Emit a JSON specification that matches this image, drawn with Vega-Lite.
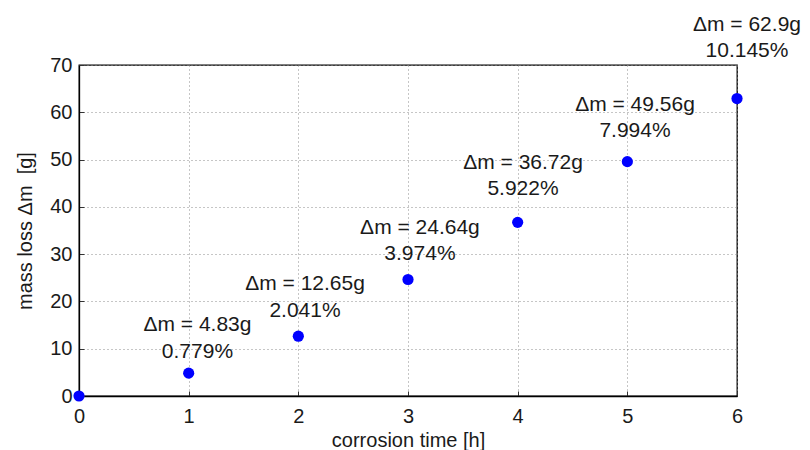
{
  "$schema": "https://vega.github.io/schema/vega-lite/v6.json",
  "width": 658,
  "height": 331,
  "autosize": {"type": "none"},
  "padding": {"left": 79, "top": 65, "right": 73, "bottom": 54},
  "background": "white",
  "config": {
    "font": "Liberation Sans",
    "view": {"stroke": "#000000", "strokeWidth": 1.3},
    "axis": {
      "labelFont": "Liberation Sans",
      "titleFont": "Liberation Sans",
      "labelFontSize": 20,
      "titleFontSize": 20,
      "titleFontWeight": "normal",
      "labelColor": "#1a1a1a",
      "titleColor": "#1a1a1a",
      "domainColor": "#000000",
      "domainWidth": 1.3,
      "tickColor": "#333333",
      "tickSize": -5,
      "grid": true,
      "gridColor": "#8c8c8c",
      "gridDash": [1, 3],
      "gridWidth": 1,
      "gridOpacity": 1
    }
  },
  "data": {
    "values": [
      {"t": 0, "dm": 0},
      {"t": 1, "dm": 4.83, "lx": 1.08, "ly": 8.04, "l1": "Δm = 4.83g", "l2": "0.779%"},
      {"t": 2, "dm": 12.65, "lx": 2.061, "ly": 16.71, "l1": "Δm = 12.65g", "l2": "2.041%"},
      {"t": 3, "dm": 24.64, "lx": 3.109, "ly": 28.76, "l1": "Δm = 24.64g", "l2": "3.974%"},
      {"t": 4, "dm": 36.72, "lx": 4.049, "ly": 42.5, "l1": "Δm = 36.72g", "l2": "5.922%"},
      {"t": 5, "dm": 49.56, "lx": 5.07, "ly": 54.77, "l1": "Δm = 49.56g", "l2": "7.994%"},
      {"t": 6, "dm": 62.9, "lx": 6.091, "ly": 71.69, "l1": "Δm = 62.9g", "l2": "10.145%"}
    ]
  },
  "layer": [
    {
      "mark": {"type": "circle", "size": 125, "color": "#0000ff", "opacity": 1, "clip": false},
      "encoding": {
        "x": {
          "field": "t", "type": "quantitative",
          "scale": {"domain": [0, 6], "nice": false, "zero": false},
          "axis": {"values": [0, 1, 2, 3, 4, 5, 6], "format": "d", "title": "corrosion time [h]", "labelPadding": 15, "titlePadding": 4, "labelFlush": false}
        },
        "y": {
          "field": "dm", "type": "quantitative",
          "scale": {"domain": [0, 70], "nice": false, "zero": false},
          "axis": {"values": [0, 10, 20, 30, 40, 50, 60, 70], "format": "d", "title": "mass loss Δm\u00a0 [g]", "labelPadding": 12, "titlePadding": 14, "labelFlush": false}
        }
      }
    },
    {
      "mark": {"type": "text", "fontSize": 21, "align": "center", "baseline": "alphabetic", "color": "#1a1a1a", "dy": -26.5},
      "encoding": {
        "x": {"field": "lx", "type": "quantitative"},
        "y": {"field": "ly", "type": "quantitative"},
        "text": {"field": "l1"}
      }
    },
    {
      "mark": {"type": "text", "fontSize": 21, "align": "center", "baseline": "alphabetic", "color": "#1a1a1a"},
      "encoding": {
        "x": {"field": "lx", "type": "quantitative"},
        "y": {"field": "ly", "type": "quantitative"},
        "text": {"field": "l2"}
      }
    }
  ]
}
